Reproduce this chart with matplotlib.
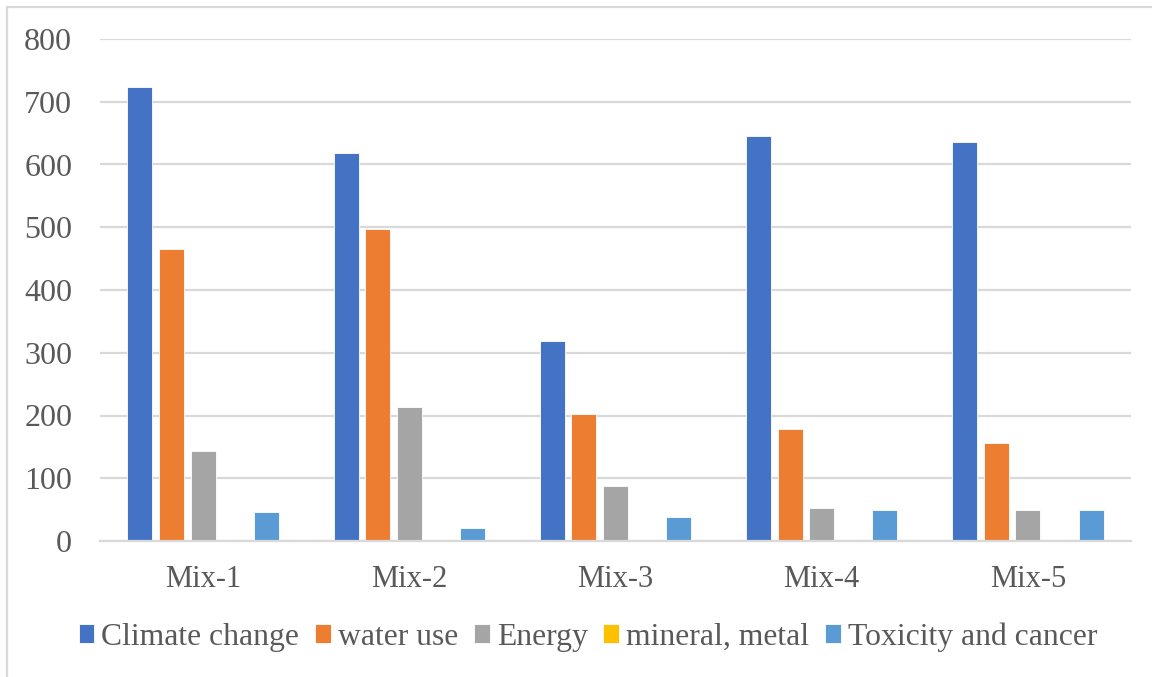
import matplotlib
matplotlib.use("Agg")
import matplotlib.pyplot as plt
import numpy as np
from matplotlib.patches import Rectangle

categories = ["Mix-1", "Mix-2", "Mix-3", "Mix-4", "Mix-5"]
series_names = ["Climate change", "water use", "Energy", "mineral, metal", "Toxicity and cancer"]
climate_change = [724, 619, 318, 646, 636]
water_use = [466, 497, 202, 179, 156]
energy = [144, 214, 87, 52, 49]
mineral_metal = [0, 0, 0, 0, 0]
toxicity_cancer = [46, 21, 38, 50, 50]
y_ticks = [0, 100, 200, 300, 400, 500, 600, 700, 800]

colors = ["#4472C4", "#ED7D31", "#A5A5A5", "#FFC000", "#5B9BD5"]
text_color = "#595959"
grid_color = "#D9D9D9"

plt.rcParams["font.family"] = ["Liberation Serif", "DejaVu Serif"]

fig = plt.figure(figsize=(11.52, 6.77), dpi=100)
ax = fig.add_axes([100 / 1152, 1 - 541 / 677, 1031 / 1152, 502 / 677])

x = np.arange(len(categories))
step = 0.1534
width = 0.121
all_series = [climate_change, water_use, energy, mineral_metal, toxicity_cancer]
handles = []
for i, (vals, name, col) in enumerate(zip(all_series, series_names, colors)):
    offs = (i - 2) * step
    b = ax.bar(x + offs, vals, width, color=col, edgecolor="white", linewidth=0.6,
               label=name, zorder=3)
    handles.append(b)

ax.set_xlim(-0.5, len(categories) - 0.5)
ax.set_ylim(0, 800)
ax.set_yticks(y_ticks)
ax.set_xticks(x)
ax.set_xticklabels(categories)
ax.tick_params(axis="both", length=0, colors=text_color)
ax.tick_params(axis="y", pad=20, labelsize=23)
ax.tick_params(axis="x", pad=17, labelsize=22)
ax.yaxis.grid(True, color=grid_color, linewidth=1.6, zorder=0)
ax.set_axisbelow(True)
for s in ["top", "right", "left"]:
    ax.spines[s].set_visible(False)
ax.spines["bottom"].set_color(grid_color)
ax.spines["bottom"].set_linewidth(1.6)
ax.spines["bottom"].set_zorder(4)

leg = fig.legend(handles=handles, labels=series_names, loc="center",
                 bbox_to_anchor=(588 / 1152, 1 - 637 / 677), ncol=5, frameon=False,
                 fontsize=22.8, handlelength=0.5, handleheight=0.5, handletextpad=0.22,
                 columnspacing=0.5, borderaxespad=0)
for t in leg.get_texts():
    t.set_color(text_color)

# chart-area frame
fig.patches.append(Rectangle((7 / 1152, -0.1), 1.2, 1 - 7 / 677 + 0.1,
                             transform=fig.transFigure, fill=False,
                             edgecolor=grid_color, linewidth=1.6))

fig.savefig("out.png", dpi=100)
